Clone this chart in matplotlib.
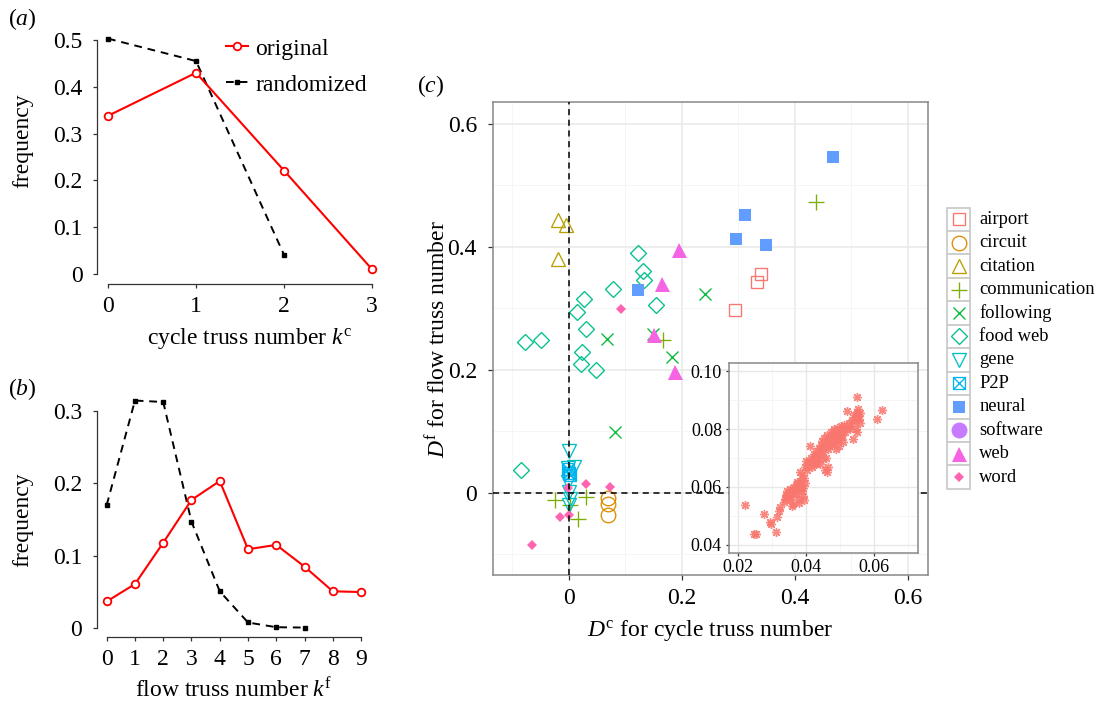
import matplotlib
matplotlib.use('Agg')
import matplotlib.pyplot as plt
from matplotlib.path import Path
from matplotlib.patches import Rectangle

plt.rcParams['font.family'] = ['Liberation Serif', 'DejaVu Serif']
plt.rcParams['mathtext.fontset'] = 'custom'
plt.rcParams['mathtext.rm'] = 'Liberation Serif'
plt.rcParams['mathtext.it'] = 'Liberation Serif:italic'

# ---------------- data ----------------
# panel (a)
kc_orig = [0, 1, 2, 3]
freq_c_orig = [0.338, 0.430, 0.221, 0.010]
kc_rand = [0, 1, 2]
freq_c_rand = [0.503, 0.455, 0.041]
a_yticks = [0, 0.1, 0.2, 0.3, 0.4, 0.5]
a_yticklabels = ['0', '0.1', '0.2', '0.3', '0.4', '0.5']
a_xticks = [0, 1, 2, 3]

# panel (b)
kf_orig = [0, 1, 2, 3, 4, 5, 6, 7, 8, 9]
freq_f_orig = [0.037, 0.061, 0.118, 0.177, 0.203, 0.109, 0.115, 0.085, 0.051, 0.050]
kf_rand = [0, 1, 2, 3, 4, 5, 6, 7]
freq_f_rand = [0.170, 0.314, 0.312, 0.147, 0.051, 0.008, 0.0015, 0.001]
b_yticks = [0, 0.1, 0.2, 0.3]
b_yticklabels = ['0', '0.1', '0.2', '0.3']
b_xticks = [0, 1, 2, 3, 4, 5, 6, 7, 8, 9]

# panel (c)
categories = ['airport', 'circuit', 'citation', 'communication', 'following',
              'food web', 'gene', 'P2P', 'neural', 'software', 'web', 'word']
airport_x = [0.340, 0.333, 0.294]
airport_y = [0.356, 0.343, 0.297]
circuit_x = [0.069, 0.069, 0.069]
circuit_y = [-0.008, -0.019, -0.036]
citation_x = [-0.019, -0.005, -0.019]
citation_y = [0.443, 0.436, 0.380]
communication_x = [0.438, 0.166, -0.025, 0.002, 0.030, 0.016]
communication_y = [0.472, 0.248, -0.012, -0.020, -0.007, -0.043]
following_x = [0.240, 0.067, 0.149, 0.182, 0.081]
following_y = [0.323, 0.250, 0.258, 0.221, 0.099]
foodweb_x = [0.123, 0.131, 0.133, 0.078, 0.026, 0.015, 0.154, 0.031, -0.077,
             -0.050, 0.0225, 0.021, 0.047, -0.0855]
foodweb_y = [0.390, 0.360, 0.346, 0.332, 0.315, 0.294, 0.305, 0.267, 0.245,
             0.249, 0.228, 0.210, 0.199, 0.0375]
gene_x = [0.000, 0.008, -0.002, -0.002, 0.000, 0.002, 0.000]
gene_y = [0.068, 0.042, 0.040, 0.018, 0.001, -0.010, -0.020]
p2p_x = [-0.002, 0.000, 0.001]
p2p_y = [0.038, 0.032, 0.028]
neural_x = [0.467, 0.311, 0.295, 0.348, 0.122]
neural_y = [0.546, 0.452, 0.413, 0.403, 0.330]
software_x = []
software_y = []
web_x = [0.195, 0.165, 0.150, 0.187]
web_y = [0.394, 0.339, 0.256, 0.197]
word_x = [0.092, 0.030, 0.073, -0.001, -0.016, 0.000, -0.066]
word_y = [0.298, 0.014, 0.009, 0.007, -0.039, -0.036, -0.086]
c_ticks = [0, 0.2, 0.4, 0.6]
c_ticklabels = ['0', '0.2', '0.4', '0.6']

# inset
inset_x = [0.0222, 0.0246, 0.0252, 0.0278, 0.0293, 0.0298, 0.0313, 0.0315, 0.0320, 0.0325,
           0.0334, 0.0338, 0.0342, 0.0345, 0.0350, 0.0352, 0.0355, 0.0358, 0.0362, 0.0365,
           0.0368, 0.0370, 0.0372, 0.0375, 0.0378, 0.0380, 0.0383, 0.0385, 0.0388, 0.0390,
           0.0392, 0.0395, 0.0382, 0.0388, 0.0395, 0.0398, 0.0400, 0.0402, 0.0405, 0.0410,
           0.0412, 0.0415, 0.0420, 0.0422, 0.0425, 0.0430, 0.0432, 0.0435, 0.0438, 0.0440,
           0.0442, 0.0445, 0.0448, 0.0450, 0.0452, 0.0455, 0.0458, 0.0455, 0.0460, 0.0465,
           0.0460, 0.0462, 0.0465, 0.0470, 0.0472, 0.0475, 0.0480, 0.0482, 0.0485, 0.0488,
           0.0490, 0.0492, 0.0495, 0.0498, 0.0500, 0.0502, 0.0505, 0.0508, 0.0510, 0.0512,
           0.0515, 0.0520, 0.0519, 0.0525, 0.0530, 0.0535, 0.0537, 0.0540, 0.0543, 0.0548,
           0.0550, 0.0552, 0.0553, 0.0555, 0.0557, 0.0545, 0.0548, 0.0607, 0.0622, 0.0348,
           0.0360, 0.0372, 0.0386, 0.0397, 0.0418, 0.0428, 0.0444, 0.0468, 0.0478, 0.0494,
           0.0340, 0.0353, 0.0366, 0.0428, 0.0451, 0.0476, 0.0503, 0.0528, 0.0546, 0.0558]
inset_y = [0.0538, 0.0438, 0.0437, 0.0508, 0.0479, 0.0471, 0.0444, 0.0498, 0.0516, 0.0532,
           0.0549, 0.0560, 0.0572, 0.0585, 0.0578, 0.0592, 0.0565, 0.0533, 0.0540, 0.0600,
           0.0588, 0.0575, 0.0610, 0.0598, 0.0560, 0.0545, 0.0620, 0.0605, 0.0585, 0.0598,
           0.0570, 0.0555, 0.0650, 0.0640, 0.0630, 0.0670, 0.0690, 0.0660, 0.0675, 0.0690,
           0.0743, 0.0700, 0.0680, 0.0715, 0.0705, 0.0690, 0.0725, 0.0700, 0.0735, 0.0715,
           0.0680, 0.0745, 0.0760, 0.0720, 0.0770, 0.0740, 0.0700, 0.0660, 0.0650, 0.0670,
           0.0755, 0.0780, 0.0730, 0.0765, 0.0790, 0.0745, 0.0775, 0.0800, 0.0760, 0.0730,
           0.0785, 0.0805, 0.0770, 0.0740, 0.0795, 0.0810, 0.0780, 0.0755, 0.0800, 0.0815,
           0.0790, 0.0805, 0.0862, 0.0820, 0.0810, 0.0830, 0.0764, 0.0850, 0.0825, 0.0910,
           0.0860, 0.0870, 0.0845, 0.0835, 0.0820, 0.0800, 0.0790, 0.0834, 0.0864, 0.0575,
           0.0590, 0.0618, 0.0595, 0.0612, 0.0668, 0.0712, 0.0728, 0.0742, 0.0752, 0.0762,
           0.0567, 0.0556, 0.0582, 0.0678, 0.0695, 0.0778, 0.0772, 0.0800, 0.0840, 0.0855]
inset_xticks = [0.02, 0.04, 0.06]
inset_xticklabels = ['0.02', '0.04', '0.06']
inset_yticks = [0.04, 0.06, 0.08, 0.10]
inset_yticklabels = ['0.04', '0.06', '0.08', '0.10']

# ---------------- figure ----------------
W, H = 1096, 702
fig = plt.figure(figsize=(W / 100, H / 100), dpi=100)


def rect(l, t, r, b):
    return [l / W, 1 - b / H, (r - l) / W, (b - t) / H]


FS = 17


def style_ab(ax, xt, yt, ytl, ybound):
    for s in ['top', 'right']:
        ax.spines[s].set_visible(False)
    ax.spines['left'].set_bounds(ybound[0], ybound[1])
    ax.spines['bottom'].set_bounds(xt[0], xt[-1])
    for s in ['left', 'bottom']:
        ax.spines[s].set_linewidth(0.9)
        ax.spines[s].set_color('#333333')
    ax.set_xticks(xt)
    ax.set_xticklabels([str(v) for v in xt])
    ax.set_yticks(yt)
    ax.set_yticklabels(ytl)
    ax.tick_params(axis='both', direction='out', length=3, width=0.9,
                   color='#333333', labelsize=FS)
    ax.tick_params(axis='y', pad=7.5)
    ax.tick_params(axis='x', pad=5.5)
    ax.set_facecolor('none')


# panel (a)
ax_a = fig.add_axes(rect(97, 35, 376, 284))
ax_a.set_xlim(-0.125, 3.045)
ax_a.set_ylim(-0.0214, 0.5107)
l_orig, = ax_a.plot(kc_orig, freq_c_orig, color='#ff0000', lw=1.5, marker='o', ms=5.5,
                    mfc='white', mec='#ff0000', mew=1.3, clip_on=False, zorder=3)
l_rand, = ax_a.plot(kc_rand, freq_c_rand, color='black', lw=1.4, ls=(0, (4, 3)),
                    marker='s', ms=3.3, clip_on=False, zorder=2)
style_ab(ax_a, a_xticks, a_yticks, a_yticklabels, (0, 0.5))
ax_a.legend([l_orig, l_rand], ['original', 'randomized'], loc='upper left',
            bbox_to_anchor=(226 / W, 1 - 38 / H), bbox_transform=fig.transFigure,
            frameon=False, fontsize=FS, handlelength=0.95, handletextpad=0.3,
            borderaxespad=0, borderpad=0, labelspacing=0.62)
ax_a.set_xlabel(r'cycle truss number $k^{\mathrm{c}}$', fontsize=FS, va='baseline')
ax_a.xaxis.set_label_coords(249.5 / W, 1 - 344 / H, transform=fig.transFigure)
ax_a.set_ylabel('frequency', fontsize=FS, va='center')
ax_a.yaxis.set_label_coords(23 / W, 1 - 141 / H, transform=fig.transFigure)

# panel (b)
ax_b = fig.add_axes(rect(96.7, 398, 365, 637))
ax_b.set_xlim(-0.354, 9.14)
ax_b.set_ylim(-0.012, 0.3175)
ax_b.plot(kf_orig, freq_f_orig, color='#ff0000', lw=1.5, marker='o', ms=5.5,
          mfc='white', mec='#ff0000', mew=1.3, clip_on=False, zorder=3)
ax_b.plot(kf_rand, freq_f_rand, color='black', lw=1.4, ls=(0, (4, 3)),
          marker='s', ms=3.3, clip_on=False, zorder=2)
style_ab(ax_b, b_xticks, b_yticks, b_yticklabels, (0, 0.3))
ax_b.set_xlabel(r'flow truss number $k^{\mathrm{f}}$', fontsize=FS, va='baseline')
ax_b.xaxis.set_label_coords(234 / W, 1 - 697 / H, transform=fig.transFigure)
ax_b.set_ylabel('frequency', fontsize=FS, va='center')
ax_b.yaxis.set_label_coords(23 / W, 1 - 520 / H, transform=fig.transFigure)

# panel labels
fig.text(22 / W, 1 - 19 / H, r'($a$)', fontsize=FS, ha='center', va='center')
fig.text(22 / W, 1 - 389 / H, r'($b$)', fontsize=FS, ha='center', va='center')
fig.text(431 / W, 1 - 86 / H, r'($c$)', fontsize=FS, ha='center', va='center')

# panel (c)
colors = ['#F8766D', '#DE8C00', '#B79F00', '#7CAE00', '#00BA38', '#00C08B',
          '#00BFC4', '#00B4F0', '#619CFF', '#C77CFF', '#F564E3', '#FF64B0']
p2p_path = Path([(-0.5, -0.5), (0.5, -0.5), (0.5, 0.5), (-0.5, 0.5), (-0.5, -0.5),
                 (-0.5, -0.5), (0.5, 0.5), (-0.5, 0.5), (0.5, -0.5)],
                [Path.MOVETO, Path.LINETO, Path.LINETO, Path.LINETO, Path.CLOSEPOLY,
                 Path.MOVETO, Path.LINETO, Path.MOVETO, Path.LINETO])
# (marker, size, filled)
mstyles = [('s', 8.6, False), ('o', 10.5, False), ('^', 10.5, False), ('+', 11.5, False),
           ('x', 9.0, False), ('D', 8.6, False), ('v', 10.5, False), (p2p_path, 8.6, False),
           ('s', 8.6, True), ('o', 11.5, True), ('^', 10.8, True), ('D', 5.0, True)]
xs = [airport_x, circuit_x, citation_x, communication_x, following_x, foodweb_x,
      gene_x, p2p_x, neural_x, software_x, web_x, word_x]
ys = [airport_y, circuit_y, citation_y, communication_y, following_y, foodweb_y,
      gene_y, p2p_y, neural_y, software_y, web_y, word_y]

ax_c = fig.add_axes(rect(493, 102.3, 927.7, 575))
ax_c.set_xlim(-0.1345, 0.635)
ax_c.set_ylim(-0.134, 0.635)
ax_c.set_xticks(c_ticks)
ax_c.set_xticklabels(c_ticklabels)
ax_c.set_yticks(c_ticks)
ax_c.set_yticklabels(c_ticklabels)
ax_c.set_xticks([-0.1, 0.1, 0.3, 0.5], minor=True)
ax_c.set_yticks([-0.1, 0.1, 0.3, 0.5], minor=True)
ax_c.grid(which='major', color='#e8e8e8', lw=1.1)
ax_c.grid(which='minor', color='#f4f4f4', lw=0.6)
ax_c.set_axisbelow(True)
ax_c.tick_params(which='major', direction='out', length=3.6, width=0.9,
                 color='#333333', labelsize=FS)
ax_c.tick_params(axis='y', which='major', pad=8)
ax_c.tick_params(axis='x', which='major', pad=5.5)
ax_c.tick_params(which='minor', length=0)
for s in ax_c.spines.values():
    s.set_color('#888888')
    s.set_linewidth(1.1)

for cx, cy, col, (mk, ms, filled) in zip(xs, ys, colors, mstyles):
    if len(cx) == 0:
        continue
    ax_c.plot(cx, cy, ls='none', marker=mk, ms=ms,
              mfc=col if filled else 'none', mec=col,
              mew=0.0 if filled else 0.95, zorder=2.5)

ax_c.axvline(0, color='black', lw=1.1, ls=(0, (4, 3)), zorder=3)
ax_c.axhline(0, color='black', lw=1.1, ls=(0, (4, 3)), zorder=3)
ax_c.set_xlabel(r'$D^{\mathrm{c}}$ for cycle truss number', fontsize=FS, va='baseline')
ax_c.xaxis.set_label_coords(710 / W, 1 - 636 / H, transform=fig.transFigure)
ax_c.set_ylabel(r'$D^{\mathrm{f}}$ for flow truss number', fontsize=FS, va='center')
ax_c.yaxis.set_label_coords(438 / W, 1 - 339 / H, transform=fig.transFigure)

# inset
ax_i = fig.add_axes(rect(729.3, 362.7, 918.3, 553.3))
ax_i.set_zorder(5)
ax_i.set_facecolor('white')
ax_i.set_xlim(0.0175, 0.0729)
ax_i.set_ylim(0.0371, 0.1029)
ax_i.set_xticks(inset_xticks)
ax_i.set_xticklabels(inset_xticklabels)
ax_i.set_yticks(inset_yticks)
ax_i.set_yticklabels(inset_yticklabels)
ax_i.set_xticks([0.03, 0.05, 0.07], minor=True)
ax_i.set_yticks([0.05, 0.07, 0.09], minor=True)
ax_i.grid(which='major', color='#e8e8e8', lw=1.0)
ax_i.grid(which='minor', color='#f4f4f4', lw=0.6)
ax_i.set_axisbelow(True)
ax_i.tick_params(which='major', direction='out', length=2.3, width=0.9,
                 color='#333333', labelsize=13)
ax_i.tick_params(axis='y', which='major', pad=3)
ax_i.tick_params(axis='x', which='major', pad=2)
ax_i.tick_params(which='minor', length=0)
for s in ax_i.spines.values():
    s.set_color('#888888')
    s.set_linewidth(1.1)
ax_i.plot(inset_x, inset_y, ls='none', marker=(8, 2, 0), ms=6.5, mew=1.0,
          color='#F8766D', alpha=0.85)

# legend for panel (c)
key = 23.45
ax_l = fig.add_axes(rect(947, 207.5, 1096, 207.5 + key * len(categories)))
ax_l.set_xlim(0, 149 / key)
ax_l.set_ylim(len(categories), 0)
ax_l.axis('off')
for i, (cat, col, (mk, ms, filled)) in enumerate(zip(categories, colors, mstyles)):
    ax_l.add_patch(Rectangle((0, i), 1, 1, fc='white', ec='#cccccc', lw=1.3,
                             clip_on=False))
    ax_l.plot([0.5], [i + 0.5], ls='none', marker=mk, ms=ms,
              mfc=col if filled else 'none', mec=col,
              mew=0.0 if filled else 0.95, clip_on=False)
    ax_l.text(1.38, i + 0.5, cat, fontsize=13.3, va='center', ha='left')

fig.savefig('out.png', dpi=100)
